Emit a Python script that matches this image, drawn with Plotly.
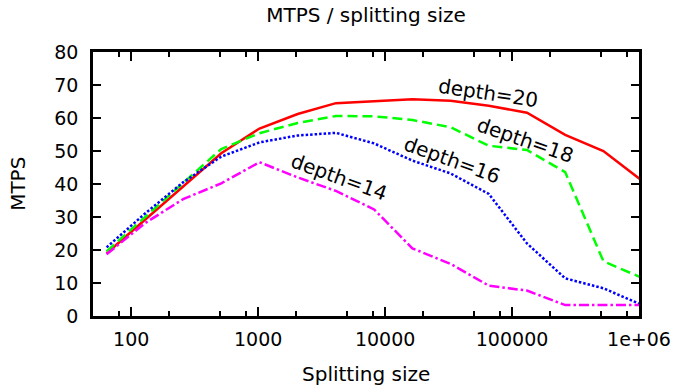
import math
import plotly.graph_objects as go

sizes = [64, 128, 256, 512, 1024, 2048, 4096, 8192, 16384, 32768, 65536,
         131072, 262144, 524288, 1048576]
depth20 = [19.0, 29.0, 39.0, 49.3, 56.8, 61.2, 64.5, 65.1, 65.7, 65.2, 63.7, 61.6, 54.9, 50.0, 41.1]
depth18 = [19.6, 30.0, 40.5, 50.6, 55.4, 58.5, 60.6, 60.5, 59.4, 57.2, 51.6, 50.3, 43.6, 16.6, 11.6]
depth16 = [20.8, 31.0, 40.5, 48.3, 52.6, 54.7, 55.5, 52.3, 47.1, 43.2, 37.0, 22.0, 11.4, 8.4, 3.4]
depth14 = [18.7, 28.1, 35.4, 40.2, 46.6, 42.0, 37.9, 32.3, 20.5, 15.8, 9.2, 7.7, 3.3, 3.3, 3.3]

series_names = ["depth=20", "depth=18", "depth=16", "depth=14"]
series_values = [depth20, depth18, depth16, depth14]
series_colors = ["#ff0000", "#00ff00", "#0000ff", "#ff00ff"]
series_dash = ["solid", "10px,5px", "2.5px,2px", "10px,3px,2.5px,3px"]

# label anchor (x in data units, y in data units) and rotation
label_x = [64900, 126000, 33800, 4310]
label_y = [67.6, 53.3, 47.3, 42.2]
label_angle = [8.5, 19, 20, 20]

x_major = [100, 1000, 10000, 100000, 1000000]
x_major_text = ["100", "1000", "10000", "100000", "1e+06"]
x_minor = [m * 10 ** e for e in range(1, 6) for m in (2, 5, 8)]
x_minor = [v for v in x_minor if 50 <= v <= 1e6]
y_ticks = [0, 10, 20, 30, 40, 50, 60, 70, 80]

FONT = "DejaVu Sans"

fig = go.Figure()
for name, vals, col, dash in zip(series_names, series_values, series_colors, series_dash):
    fig.add_trace(go.Scatter(x=sizes, y=vals, mode="lines", name=name,
                             line=dict(color=col, width=2.5, dash=dash)))

for name, lx, ly, ang in zip(series_names, label_x, label_y, label_angle):
    fig.add_annotation(x=math.log10(lx), y=ly, xref="x", yref="y", text=name,
                       showarrow=False, textangle=ang,
                       font=dict(family=FONT, size=20, color="black"))

fig.add_annotation(text="Splitting size", xref="paper", yref="paper",
                   x=0.5, y=-0.2197, xanchor="center", yanchor="middle",
                   showarrow=False, font=dict(family=FONT, size=20, color="black"))
fig.add_annotation(text="MTPS", xref="paper", yref="paper",
                   x=-0.1376, y=0.5, xanchor="center", yanchor="middle",
                   textangle=-90, showarrow=False,
                   font=dict(family=FONT, size=20, color="black"))

fig.update_layout(
    width=683, height=392,
    margin=dict(l=93, r=37.5, t=52, b=76),
    paper_bgcolor="white", plot_bgcolor="white",
    showlegend=False,
    font=dict(family=FONT, size=19, color="black"),
    title=dict(text="MTPS / splitting size", x=0.5, xref="paper",
               y=1 - 15 / 392, yref="container", xanchor="center", yanchor="middle",
               font=dict(family=FONT, size=20, color="black")),
    xaxis=dict(type="log", range=[math.log10(50), 6],
               tickvals=x_major, ticktext=x_major_text,
               ticks="inside", ticklen=9, tickwidth=1.5, tickcolor="black",
               minor=dict(tickvals=x_minor, ticks="inside", ticklen=5,
                          tickwidth=1.5, tickcolor="black", showgrid=False),
               showline=True, linecolor="black", linewidth=2.5, mirror="ticks",
               showgrid=False, zeroline=False,
               ticklabelstandoff=4,
               tickfont=dict(family=FONT, size=19, color="black")),
    yaxis=dict(range=[0, 80], tickvals=y_ticks,
               ticks="inside", ticklen=8, tickwidth=1.5, tickcolor="black",
               showline=True, linecolor="black", linewidth=2.5, mirror="ticks",
               showgrid=False, zeroline=False,
               ticklabelstandoff=8,
               tickfont=dict(family=FONT, size=19, color="black")),
)

fig.write_html("out.html")
